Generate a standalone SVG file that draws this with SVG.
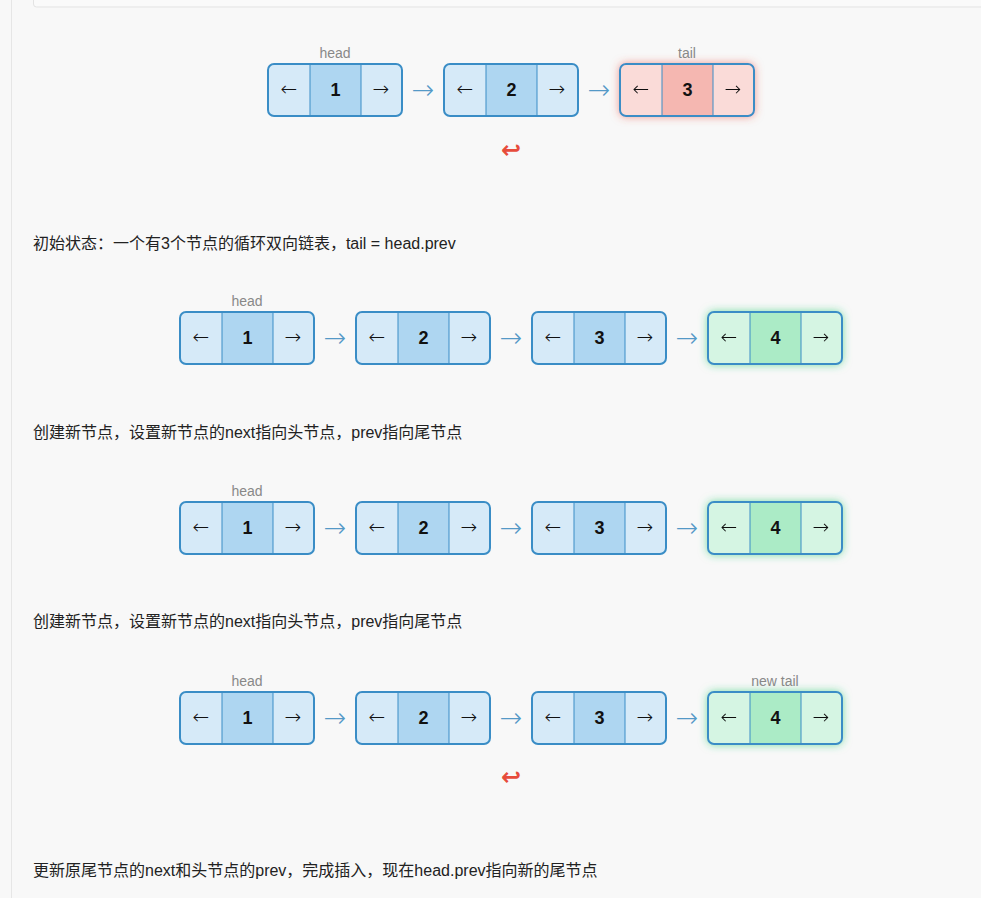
<svg xmlns="http://www.w3.org/2000/svg" width="981" height="898" viewBox="0 0 981 898">
<defs>
<filter id="glowR" x="-30%" y="-60%" width="160%" height="220%"><feDropShadow dx="0" dy="0" stdDeviation="4" flood-color="#e74c3c" flood-opacity="0.55"/></filter>
<filter id="glowG" x="-30%" y="-60%" width="160%" height="220%"><feDropShadow dx="0" dy="0" stdDeviation="4" flood-color="#2ecc71" flood-opacity="0.6"/></filter>
<g id="nb">
<rect x="0" y="0" width="134" height="52" rx="6" fill="#d6eaf8"/>
<rect x="42" y="0" width="51" height="52" fill="#aed6f1"/>
<line x1="42" y1="1" x2="42" y2="51" class="div"/>
<line x1="93" y1="1" x2="93" y2="51" class="div"/>
<rect x="0" y="0" width="134" height="52" rx="6" class="frame"/>
<text x="21" y="32" class="arr">←</text>
<text x="113" y="32" class="arr">→</text>
</g>
<g id="nr">
<rect x="0" y="0" width="134" height="52" rx="6" fill="#fadbd8"/>
<rect x="42" y="0" width="51" height="52" fill="#f5b7b1"/>
<line x1="42" y1="1" x2="42" y2="51" class="div"/>
<line x1="93" y1="1" x2="93" y2="51" class="div"/>
<rect x="0" y="0" width="134" height="52" rx="6" class="frame"/>
<text x="21" y="32" class="arr">←</text>
<text x="113" y="32" class="arr">→</text>
</g>
<g id="ng">
<rect x="0" y="0" width="134" height="52" rx="6" fill="#d5f5e3"/>
<rect x="42" y="0" width="51" height="52" fill="#abebc6"/>
<line x1="42" y1="1" x2="42" y2="51" class="div"/>
<line x1="93" y1="1" x2="93" y2="51" class="div"/>
<rect x="0" y="0" width="134" height="52" rx="6" class="frame"/>
<text x="21" y="32" class="arr">←</text>
<text x="113" y="32" class="arr">→</text>
</g>
</defs>
<style>
.div{stroke:#3a8dc6;stroke-width:1}
.frame{fill:none;stroke:#3a8dc6;stroke-width:2}
.arr{font-family:"DejaVu Sans","Liberation Sans",sans-serif;font-weight:200;font-size:20px;text-anchor:middle;fill:#111}
.num{font-family:"Liberation Sans",Arial,sans-serif;font-size:18px;font-weight:bold;text-anchor:middle;fill:#111}
.lbl{font-family:"Liberation Sans",Arial,sans-serif;font-size:14px;text-anchor:middle;fill:#888}
.link{font-family:"DejaVu Sans","Liberation Sans",sans-serif;font-weight:200;font-size:27px;text-anchor:middle;fill:#5499c7}
.ret{font-family:"DejaVu Sans","Liberation Sans",sans-serif;font-size:24px;font-weight:bold;text-anchor:middle;fill:#e74c3c}
.cap{font-family:"Liberation Sans","Noto Sans CJK SC",sans-serif;font-size:16px;fill:#222}
</style>
<rect x="0" y="0" width="981" height="898" fill="#f8f8f8"/>
<line x1="11.5" y1="0" x2="11.5" y2="898" stroke="#e6e6e6" stroke-width="1"/>
<rect x="33.5" y="-10" width="960" height="17" rx="3" fill="#fafafa" stroke="#e3e3e3" stroke-width="1"/>

<g id="connectors">
<text x="423" y="99" class="link">→</text>
<text x="599" y="99" class="link">→</text>
<text x="511" y="158" class="ret">↩</text>
<text x="335" y="347" class="link">→</text>
<text x="511" y="347" class="link">→</text>
<text x="687" y="347" class="link">→</text>
<text x="335" y="537" class="link">→</text>
<text x="511" y="537" class="link">→</text>
<text x="687" y="537" class="link">→</text>
<text x="335" y="727" class="link">→</text>
<text x="511" y="727" class="link">→</text>
<text x="687" y="727" class="link">→</text>
<text x="511" y="785" class="ret">↩</text>
</g>

<!-- Row 1 -->
<g id="r1n1" transform="translate(268,64)"><use href="#nb"/><text x="67.5" y="32" class="num">1</text><text x="67" y="-6" class="lbl">head</text></g>
<g id="r1n2" transform="translate(444,64)"><use href="#nb"/><text x="67.5" y="32" class="num">2</text></g>
<g id="r1n3" transform="translate(620,64)"><g filter="url(#glowR)"><use href="#nr"/></g><text x="67.5" y="32" class="num">3</text><text x="67" y="-6" class="lbl">tail</text></g>
<text x="33" y="249" class="cap">初始状态：一个有3个节点的循环双向链表，tail = head.prev</text>

<!-- Row 2 -->
<g id="r2n1" transform="translate(180,312)"><use href="#nb"/><text x="67.5" y="32" class="num">1</text><text x="67" y="-6" class="lbl">head</text></g>
<g id="r2n2" transform="translate(356,312)"><use href="#nb"/><text x="67.5" y="32" class="num">2</text></g>
<g id="r2n3" transform="translate(532,312)"><use href="#nb"/><text x="67.5" y="32" class="num">3</text></g>
<g id="r2n4" transform="translate(708,312)"><g filter="url(#glowG)"><use href="#ng"/></g><text x="67.5" y="32" class="num">4</text></g>
<text x="33" y="438" class="cap">创建新节点，设置新节点的next指向头节点，prev指向尾节点</text>

<!-- Row 3 -->
<g id="r3n1" transform="translate(180,502)"><use href="#nb"/><text x="67.5" y="32" class="num">1</text><text x="67" y="-6" class="lbl">head</text></g>
<g id="r3n2" transform="translate(356,502)"><use href="#nb"/><text x="67.5" y="32" class="num">2</text></g>
<g id="r3n3" transform="translate(532,502)"><use href="#nb"/><text x="67.5" y="32" class="num">3</text></g>
<g id="r3n4" transform="translate(708,502)"><g filter="url(#glowG)"><use href="#ng"/></g><text x="67.5" y="32" class="num">4</text></g>
<text x="33" y="627" class="cap">创建新节点，设置新节点的next指向头节点，prev指向尾节点</text>

<!-- Row 4 -->
<g id="r4n1" transform="translate(180,692)"><use href="#nb"/><text x="67.5" y="32" class="num">1</text><text x="67" y="-6" class="lbl">head</text></g>
<g id="r4n2" transform="translate(356,692)"><use href="#nb"/><text x="67.5" y="32" class="num">2</text></g>
<g id="r4n3" transform="translate(532,692)"><use href="#nb"/><text x="67.5" y="32" class="num">3</text></g>
<g id="r4n4" transform="translate(708,692)"><g filter="url(#glowG)"><use href="#ng"/></g><text x="67.5" y="32" class="num">4</text><text x="67" y="-6" class="lbl">new tail</text></g>
<text x="33" y="876" class="cap">更新原尾节点的next和头节点的prev，完成插入，现在head.prev指向新的尾节点</text>
</svg>
